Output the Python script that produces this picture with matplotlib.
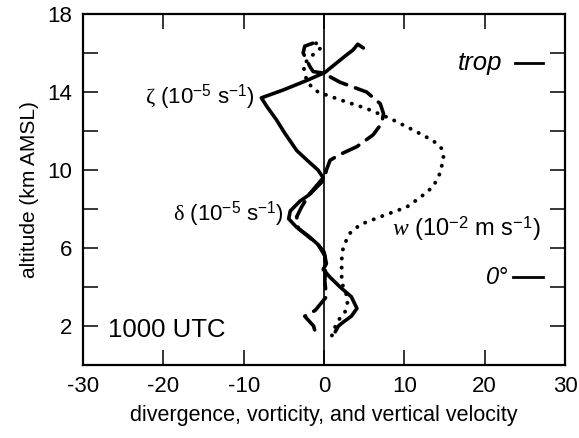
import matplotlib
matplotlib.use("Agg")
import matplotlib.pyplot as plt

plt.rcParams['font.family'] = ['Liberation Sans', 'DejaVu Sans']
plt.rcParams['axes.unicode_minus'] = False
plt.rcParams['mathtext.fontset'] = 'custom'
plt.rcParams['mathtext.rm'] = 'Liberation Sans'
plt.rcParams['mathtext.it'] = 'Liberation Serif:italic'
plt.rcParams['mathtext.sf'] = 'Liberation Serif'

# vorticity zeta (1e-5 s-1) vs altitude (km)
zeta_x = [4.9, 4.2, 3.6, 2.8, 1.6, 0.1, -2.1, -5.1, -7.8, -7.1, -5.9, -4.9, -3.4,
          -2.1, -0.75, -0.1, -1.95, -3.0, -4.2, -4.4, -3.5, -1.9, -0.8, 0.0,
          0.3, -0.1, 0.75, 2.0, 3.4, 4.1, 3.4, 2.4, 1.8, 1.4]
zeta_z = [16.26, 16.45, 16.15, 15.9, 15.5, 15.0, 14.6, 14.1, 13.7, 13.25, 12.56,
          11.9, 11.0, 10.5, 10.0, 9.6, 8.7, 8.4, 7.9, 7.5, 7.1, 6.6, 6.2, 5.8,
          5.2, 4.9, 4.5, 4.0, 3.5, 2.9, 2.5, 2.2, 2.0, 1.7]

# divergence delta (1e-5 s-1)
delta_x = [-1.4, -2.4, -2.6, -2.15, -1.75, -1.35, -0.1, 2.0, 5.3, 7.0, 7.4, 7.2,
           6.1, 4.1, 2.0, 0.75, 0.3, 0.0, -1.9, -2.8, -3.4, -3.2, -1.7, -0.7,
           0.1, 0.2, 0.1, 0.3, -1.1, -2.4, -1.3, -1.1]
delta_z = [16.5, 16.35, 16.0, 15.64, 15.3, 15.05, 14.97, 14.5, 14.0, 13.4, 12.9,
           12.4, 11.8, 11.2, 10.8, 10.5, 10.0, 9.5, 8.7, 8.1, 7.6, 7.0, 6.5,
           6.15, 5.6, 5.0, 4.3, 3.5, 2.8, 2.5, 2.0, 1.7]

# vertical velocity w (1e-2 m s-1)
w_x = [-1.0, -0.3, -1.4, -2.6, -2.3, -2.0, -0.75, 2.0, 5.3, 8.2, 11.1, 13.6,
       14.65, 14.9, 14.4, 13.6, 12.0, 10.3, 7.0, 4.5, 3.2, 2.4, 2.2, 2.2, 2.6,
       3.0, 2.6, 1.8, 1.2, 0.9]
w_z = [16.5, 16.3, 15.9, 15.4, 14.8, 14.45, 14.0, 13.6, 13.15, 12.65, 12.05,
       11.5, 11.1, 10.6, 9.8, 9.15, 8.6, 8.1, 7.6, 7.2, 6.75, 6.07, 5.4, 4.2,
       3.85, 3.33, 2.7, 2.3, 1.8, 1.4]

trop_alt = 15.5
freeze_alt = 4.5

fig = plt.figure(figsize=(5.79, 4.38), dpi=100)
ax = fig.add_axes([0.1434, 0.1667, 0.8324, 0.8013])

ax.axvline(0, color='black', lw=1.2)
ax.plot(zeta_x, zeta_z, color='black', lw=2.6, solid_capstyle='round')
ax.plot(delta_x, delta_z, color='black', lw=2.6, linestyle=(0, (5.0, 2.6)),
        dash_capstyle='round')
ax.plot(w_x, w_z, color='black', lw=2.8, linestyle=(0, (0.05, 2.3)),
        dash_capstyle='round')

ax.set_xlim(-30, 30)
ax.set_ylim(0, 18)
ax.set_xticks([-30, -20, -10, 0, 10, 20, 30])
ax.set_yticks([2, 4, 6, 8, 10, 12, 14, 16, 18])
ax.set_yticklabels(['2', '', '6', '', '10', '', '14', '', '18'])
ax.tick_params(direction='in', length=11, width=1.1, labelsize=16,
               top=True, right=True, pad=8, colors='black')
for s in ax.spines.values():
    s.set_linewidth(1.6)

ax.set_xlabel('divergence, vorticity, and vertical velocity', fontsize=15.5, labelpad=6)
ax.set_ylabel('altitude (km AMSL)', fontsize=15, labelpad=6)

ax.text(-8.6, 13.75, r'$\mathsf{\zeta}$ (10$^{-5}$ s$^{-1}$)', fontsize=16,
        ha='right', va='center')
ax.text(-5.0, 7.75, r'$\mathsf{\delta}$ (10$^{-5}$ s$^{-1}$)', fontsize=16,
        ha='right', va='center')
ax.text(8.5, 7.0, r'$\mathit{w}$ (10$^{-2}$ m s$^{-1}$)', fontsize=17,
        ha='left', va='center')
ax.text(-26.9, 1.8, '1000 UTC', fontsize=18.5, ha='left', va='center')

ax.text(22.2, trop_alt, 'trop', fontsize=18.5, style='italic', ha='right', va='center')
ax.plot([23.8, 27.3], [trop_alt, trop_alt], color='black', lw=2)
ax.text(23.0, freeze_alt, '0°', fontsize=17, style='italic', ha='right', va='center')
ax.plot([23.5, 27.3], [freeze_alt, freeze_alt], color='black', lw=2)

fig.savefig('out.png', dpi=100)
